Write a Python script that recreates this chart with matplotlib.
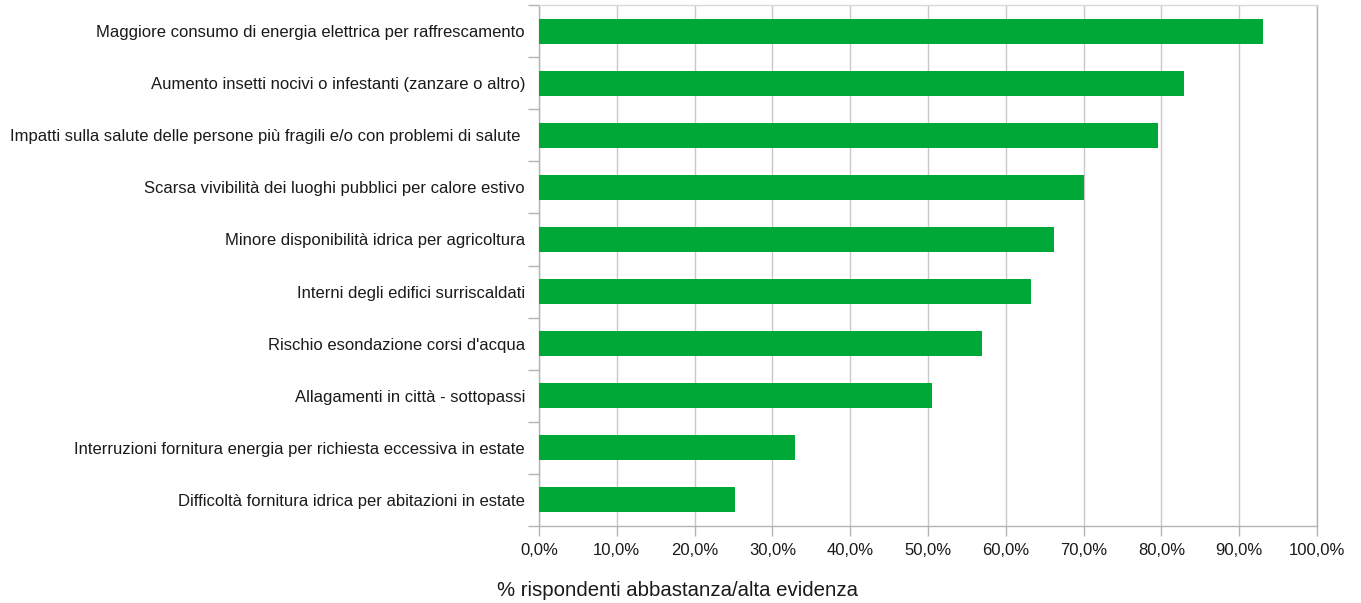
import matplotlib
matplotlib.use('Agg')
from matplotlib import pyplot as plt
from matplotlib.ticker import FixedLocator, FuncFormatter

categories = [
    'Maggiore consumo di energia elettrica per raffrescamento',
    'Aumento insetti nocivi o infestanti (zanzare o altro)',
    'Impatti sulla salute delle persone più fragili e/o con problemi di salute ',
    'Scarsa vivibilità dei luoghi pubblici per calore estivo',
    'Minore disponibilità idrica per agricoltura',
    'Interni degli edifici surriscaldati',
    "Rischio esondazione corsi d'acqua",
    'Allagamenti in città - sottopassi',
    'Interruzioni fornitura energia per richiesta eccessiva in estate',
    'Difficoltà fornitura idrica per abitazioni in estate',
]
values = [93.1, 82.9, 79.6, 70.1, 66.2, 63.2, 56.9, 50.5, 32.9, 25.2]
xticks = [0, 10, 20, 30, 40, 50, 60, 70, 80, 90, 100]

plt.rcParams['font.family'] = ['Liberation Sans', 'DejaVu Sans']

fig = plt.figure(figsize=(13.61, 6.03), dpi=100)
ax = fig.add_axes([0.396, 0.1277, 0.5717, 0.864])

n = len(categories)
pos = list(range(n))[::-1]
ax.barh(pos, values, height=0.48, color='#00a838', zorder=3)

ax.set_xlim(0, 100)
ax.set_ylim(-0.5, n - 0.5)
ax.set_xticks(xticks)
ax.xaxis.set_major_formatter(FuncFormatter(lambda v, p: f'{v:.1f}%'.replace('.', ',')))
ax.set_yticks(pos)
ax.set_yticklabels(categories)
ax.yaxis.set_minor_locator(FixedLocator([i - 0.5 for i in range(n + 1)]))

ax.tick_params(axis='y', which='major', length=0, pad=10, labelsize=12, colors='#1a1a1a')
ax.tick_params(axis='y', which='minor', length=8, color='#b3b3b3', width=1)
ax.tick_params(axis='x', which='major', length=7, color='#b3b3b3', width=1,
               labelsize=12, labelcolor='#1a1a1a', pad=5)

ax.grid(axis='x', color='#c8c8c8', linewidth=1, zorder=0)
for s in ax.spines.values():
    s.set_color('#b3b3b3')
    s.set_linewidth(1)
ax.spines['top'].set_color('#d9d9d9')

fig.text(0.498, 0.005, '% rispondenti abbastanza/alta evidenza', fontsize=14.7,
         color='#1a1a1a', ha='center', va='bottom')

plt.savefig('out.png', dpi=100)
